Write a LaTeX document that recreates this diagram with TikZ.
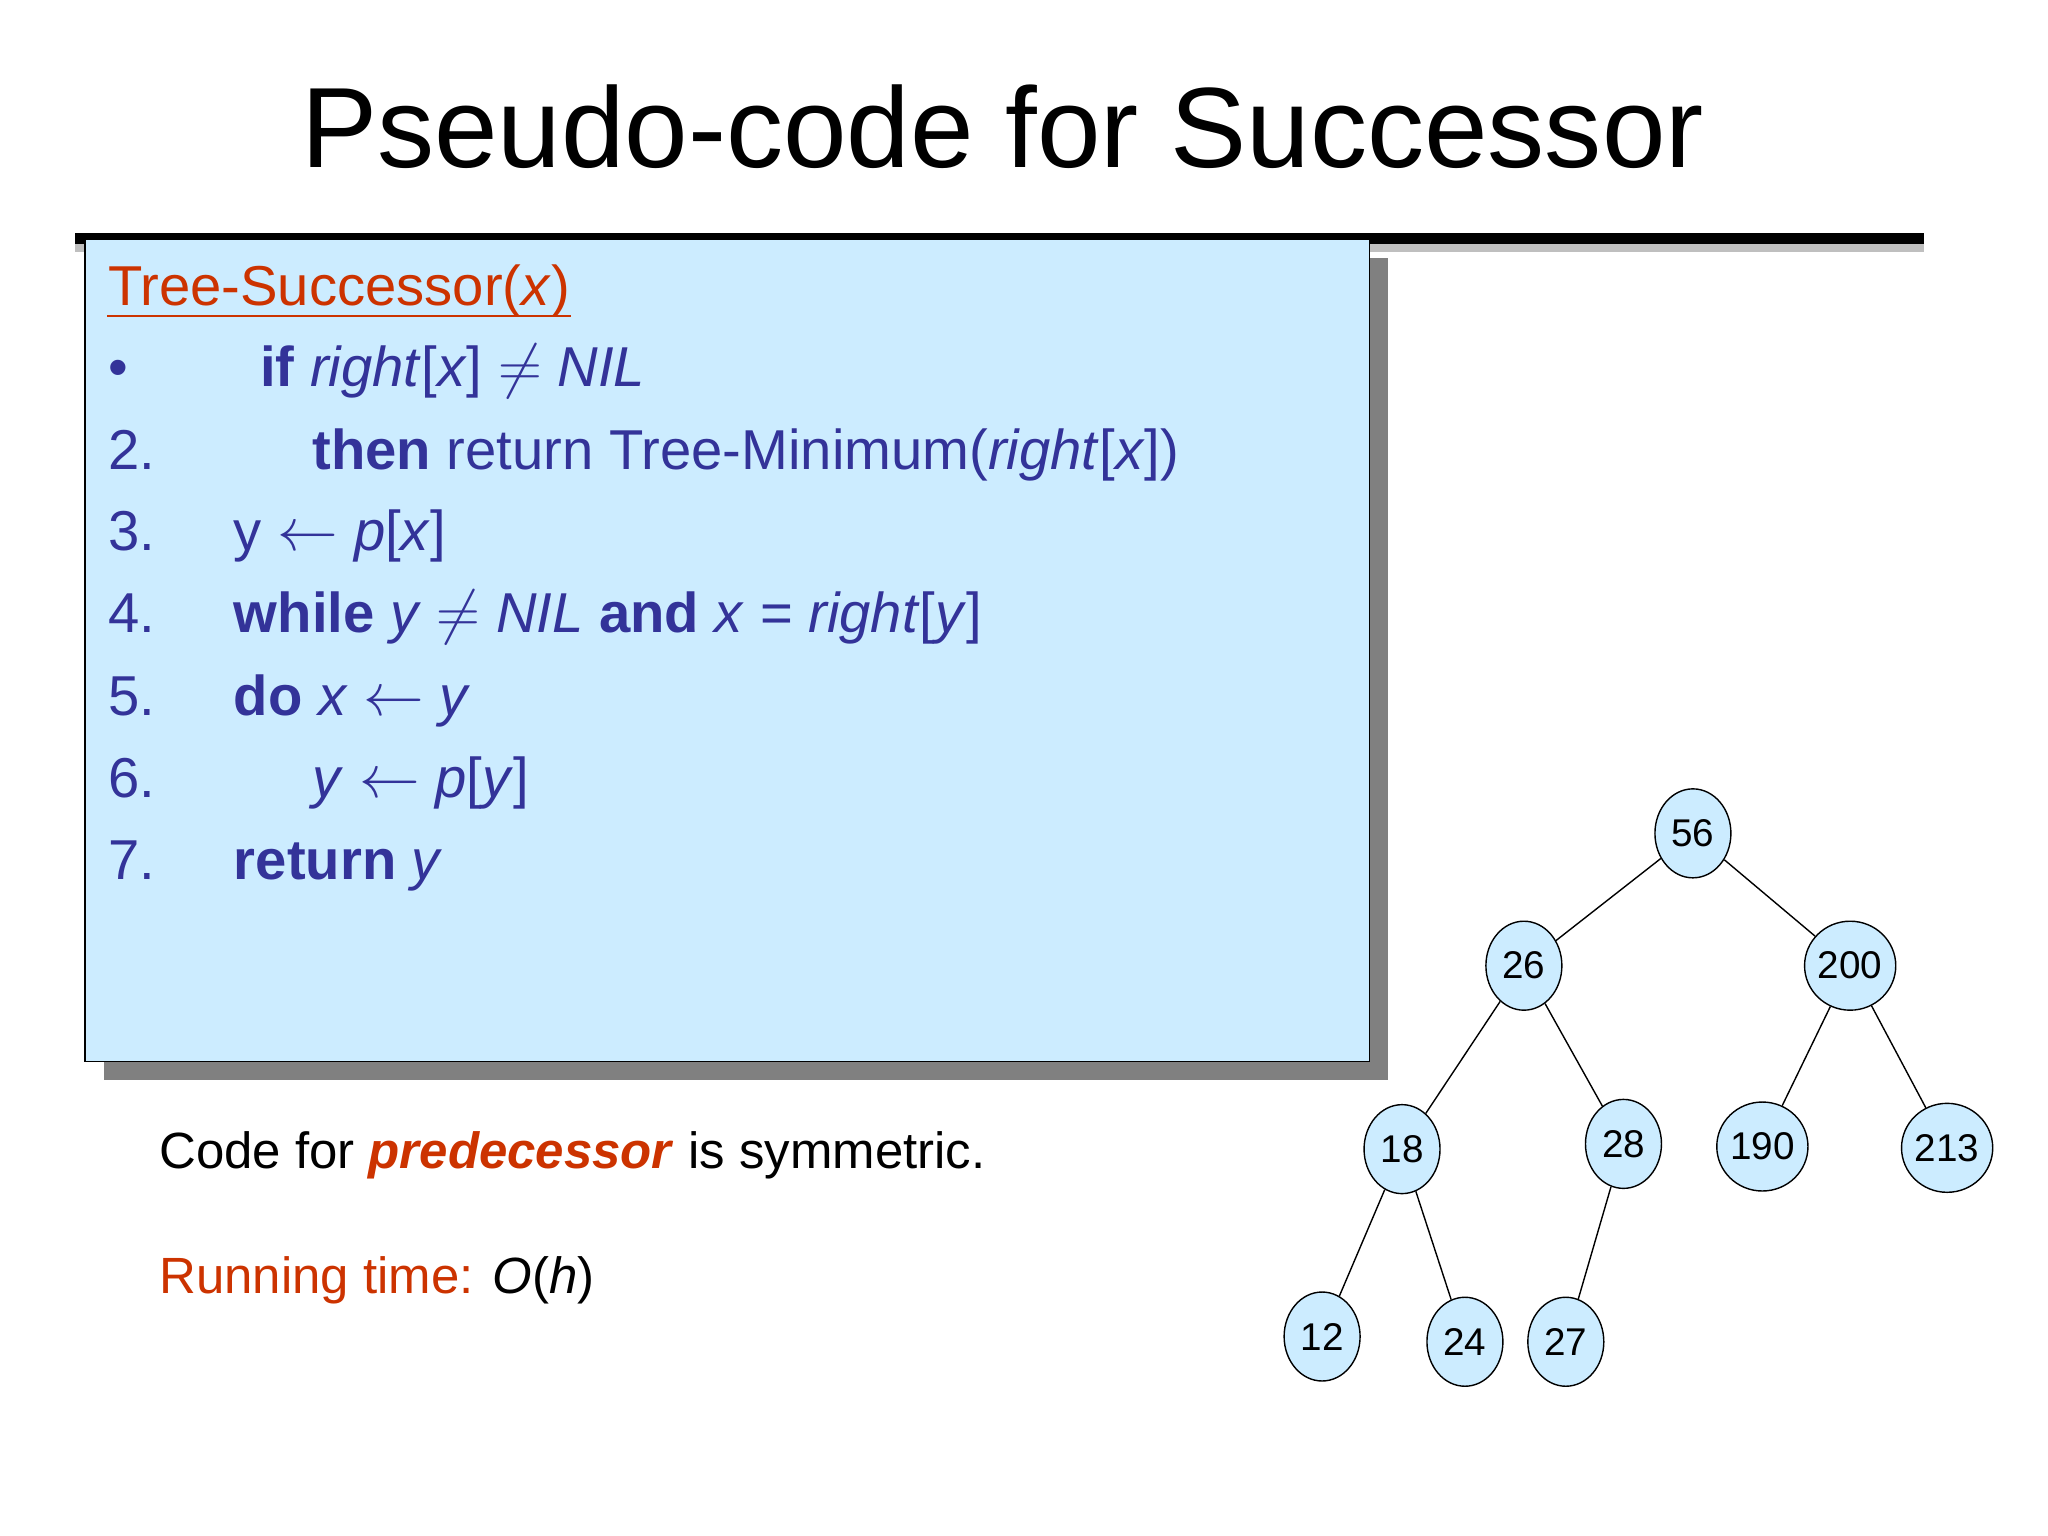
\documentclass[tikz,border=0pt]{standalone}
\usepackage{fontspec}
\setmainfont{Liberation Sans}
\usetikzlibrary{positioning, shapes.geometric}
\definecolor{codeblue}{RGB}{51,51,153}
\definecolor{hdrred}{RGB}{204,51,0}
\definecolor{boxfill}{RGB}{204,236,255}
\tikzstyle{key}=[ellipse, draw=black, fill=boxfill, minimum width=0.76cm, minimum height=0.89cm, inner sep=0pt, font=\fontsize{11}{13}\selectfont]
\tikzstyle{line}=[anchor=base west, text=codeblue, font=\fontsize{16}{19}\selectfont, inner sep=0pt]
\newcommand{\kw}[1]{\textbf{#1}}

\begin{document}
\begin{tikzpicture}[x=0.0131cm, y=-0.0131cm]
            \useasboundingbox (0,0) rectangle (1563,1172);
            %title and rule
            \node[font=\fontsize{32.5}{36}\selectfont](title) at (765,97){Pseudo-code for Successor};
            \fill[black!25] (57,186) rectangle (1468,192);
            \fill[black] (57,178) rectangle (1468,186);
            %code box with its shadow
            \fill[black!50] (79,197) rectangle (1059,824);
            \draw[fill=boxfill] (65,183) rectangle (1045,810);
            \node[anchor=base west, text=hdrred, font=\fontsize{16}{19}\selectfont, inner sep=0pt](hdr) at (82,233){Tree-Successor(\textit{x})};
            \draw[hdrred] ([yshift=-3pt]hdr.base west) -- ([yshift=-3pt]hdr.base east);
            \foreach \y/\num [count=\i] in {295/•, 358/2., 420/3., 483/4., 546/5., 609/6., 671/7.}{
                \node[line](n\i) at (82,\y){\num};
            }
            \node[line](l1) at (198,295){\kw{if} \textit{right}[\textit{x}] $\neq$ \textit{NIL}};
            \node[line](l2) at (238,358){\kw{then} return Tree-Minimum(\textit{right}[\textit{x}])};
            \node[line](l3) at (178,420){y $\leftarrow$ \textit{p}[\textit{x}]};
            \node[line](l4) at (178,483){\kw{while} \textit{y} $\neq$ \textit{NIL} \kw{and} \textit{x} = \textit{right}[\textit{y}]};
            \node[line](l5) at (178,546){\kw{do} \textit{x} $\leftarrow$ \textit{y}};
            \node[line](l6) at (238,609){\textit{y} $\leftarrow$ \textit{p}[\textit{y}]};
            \node[line](l7) at (178,671){\kw{return} \textit{y}};
            %remarks
            \node[anchor=west, inner sep=0pt, font=\fontsize{14.5}{17}\selectfont](sym) at (121,882){Code for \textcolor{hdrred}{\textbf{\textit{predecessor}}} is symmetric.};
            \node[anchor=west, inner sep=0pt, font=\fontsize{14.5}{17}\selectfont, text=hdrred](run) at (121,977){Running time: \textcolor{black}{\textit{O}(\textit{h})}};
            %the tree
            \node[key](k56) at (1292,636){56};
            \node[key](k26) at (1163,737){26};
            \node[key](k200) at (1412,737){200};
            \node[key](k18) at (1070,877){18};
            \node[key](k28) at (1239,873){28};
            \node[key](k190) at (1345,875){190};
            \node[key](k213) at (1486,876){213};
            \node[key](k12) at (1009,1020){12};
            \node[key](k24) at (1118,1024){24};
            \node[key](k27) at (1195,1024){27};
            \foreach \a/\b in {56/26, 56/200, 26/18, 26/28, 200/190, 200/213, 18/12, 18/24, 28/27}{
                \draw (k\a) to (k\b);
            }
        \end{tikzpicture}
\end{document}
